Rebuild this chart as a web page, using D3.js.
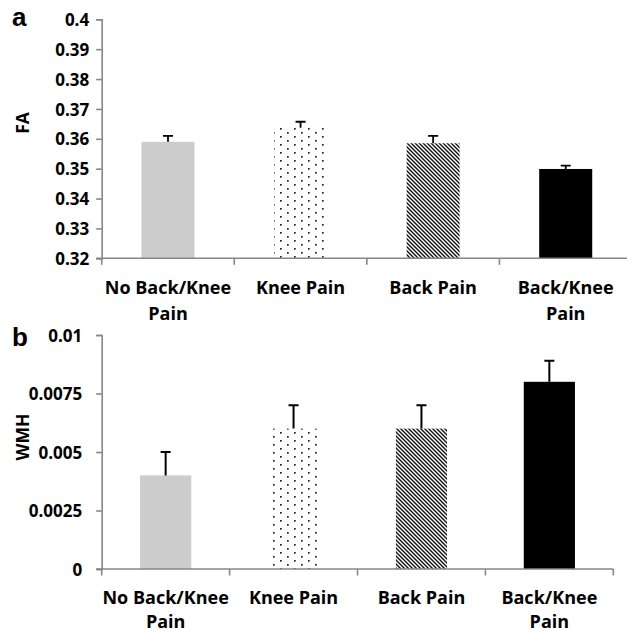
<!DOCTYPE html>
<html>
<head>
<meta charset="utf-8">
<script src="https://cdn.jsdelivr.net/npm/d3@7"></script>
<style>
  body { margin: 0; background: #fff; }
  text { font-family: "Open Sans", Lato, sans-serif; font-weight: 700; fill: #000; }
</style>
</head>
<body>
<script>
// data
var categories = ["No Back/Knee Pain", "Knee Pain", "Back Pain", "Back/Knee Pain"];
var categoryLines = [["No Back/Knee", "Pain"], ["Knee Pain"], ["Back Pain"], ["Back/Knee", "Pain"]];

var faValues = [0.359, 0.3637, 0.3585, 0.3499];
var faErrors = [0.002, 0.002, 0.0025, 0.0011];
var faTicks = [0.32, 0.33, 0.34, 0.35, 0.36, 0.37, 0.38, 0.39, 0.4];
var faTickLabels = ["0.32", "0.33", "0.34", "0.35", "0.36", "0.37", "0.38", "0.39", "0.4"];

var wmhValues = [0.004, 0.006, 0.006, 0.008];
var wmhErrors = [0.001, 0.001, 0.001, 0.0009];
var wmhTicks = [0, 0.0025, 0.005, 0.0075, 0.01];
var wmhTickLabels = ["0", "0.0025", "0.005", "0.0075", "0.01"];

var fills = ["#cccccc", "url(#dots)", "url(#hatch)", "#000000"];

var svg = d3.select("body").append("svg")
    .attr("width", 627)
    .attr("height", 631);

// fill patterns
var defs = svg.append("defs");
var dots = defs.append("pattern")
    .attr("id", "dots")
    .attr("patternUnits", "userSpaceOnUse")
    .attr("width", 14).attr("height", 8);
dots.append("rect").attr("width", 14).attr("height", 8).attr("fill", "#fff");
dots.append("rect").attr("x", 0).attr("y", 0).attr("width", 1.7).attr("height", 1.7).attr("fill", "#222");
dots.append("rect").attr("x", 7).attr("y", 4).attr("width", 1.7).attr("height", 1.7).attr("fill", "#222");

var hatch = defs.append("pattern")
    .attr("id", "hatch")
    .attr("patternUnits", "userSpaceOnUse")
    .attr("width", 4).attr("height", 4);
hatch.append("rect").attr("width", 4).attr("height", 4).attr("fill", "#fff");
hatch.append("path")
    .attr("d", "M-1,-1L5,5M3,-1L5,1M-1,3L1,5")
    .attr("stroke", "#111")
    .attr("stroke-width", 1.4);

function drawPanel(p) {
    var x = d3.scaleBand()
        .domain(categories)
        .range([p.left, p.right])
        .paddingInner(0.6)
        .paddingOuter(0.3);
    var y = d3.scaleLinear()
        .domain(p.domain)
        .range([p.bottom, p.top]);
    var step = x.step();

    var g = svg.append("g");

    // y axis
    var yAxis = d3.axisLeft(y)
        .tickValues(p.ticks)
        .tickFormat(function(d, i) { return p.tickLabels[i]; })
        .tickSize(5.5)
        .tickPadding(p.tickPad);
    var ya = g.append("g")
        .attr("transform", "translate(" + p.left + ",0)")
        .call(yAxis);
    ya.attr("font-family", null).attr("font-size", null);
    ya.select(".domain").attr("stroke", "#878787").attr("stroke-width", 1.6);
    ya.selectAll(".tick line").attr("stroke", "#878787").attr("stroke-width", 1.6);
    ya.selectAll(".tick text")
        .style("font-size", "17px")
        .style("font-weight", "700")
        .attr("fill", "#000")
        .attr("dy", "0.36em");

    // bars
    g.selectAll("rect.bar")
        .data(p.values)
        .enter().append("rect")
        .attr("class", "bar")
        .attr("x", function(d, i) { return x(categories[i]); })
        .attr("width", x.bandwidth())
        .attr("y", function(d) { return y(d); })
        .attr("height", function(d) { return y(p.domain[0]) - y(d); })
        .attr("fill", function(d, i) { return fills[i]; });

    // error bars
    var err = g.append("g")
        .attr("stroke", "#000")
        .attr("stroke-width", p.errWidth)
        .attr("fill", "none");
    err.selectAll("path")
        .data(p.values)
        .enter().append("path")
        .attr("d", function(d, i) {
            var cx = x(categories[i]) + x.bandwidth() / 2;
            var y0 = y(d), y1 = y(d + p.errors[i]);
            return "M" + cx + "," + y0 + "V" + y1 + "M" + (cx - 5) + "," + y1 + "H" + (cx + 5);
        });

    // x axis line and boundary ticks
    var axisY = y(p.domain[0]);
    g.append("line")
        .attr("x1", p.left - 5.5).attr("x2", p.right)
        .attr("y1", axisY).attr("y2", axisY)
        .attr("stroke", "#878787").attr("stroke-width", 1.6);
    var bounds = d3.range(categories.length + 1).map(function(i) {
        return i < categories.length ? x(categories[i]) - step * 0.3 : x(categories[i - 1]) + x.bandwidth() + step * 0.3;
    });
    g.selectAll("line.xtick")
        .data(bounds)
        .enter().append("line")
        .attr("class", "xtick")
        .attr("x1", function(d) { return d; }).attr("x2", function(d) { return d; })
        .attr("y1", axisY).attr("y2", axisY + 6.5)
        .attr("stroke", "#878787").attr("stroke-width", 1.6);

    // category labels
    var lab = g.selectAll("text.cat")
        .data(categoryLines)
        .enter().append("text")
        .attr("class", "cat")
        .attr("text-anchor", "middle")
        .style("font-size", "18px")
        .attr("x", function(d, i) { return x(categories[i]) + x.bandwidth() / 2; })
        .attr("y", axisY + p.labelOffset);
    lab.selectAll("tspan")
        .data(function(d) { return d; })
        .enter().append("tspan")
        .attr("x", function() { return d3.select(this.parentNode).attr("x"); })
        .attr("dy", function(d, i) { return i === 0 ? 0 : p.lineGap; })
        .text(function(d) { return d; });

    // axis title
    g.append("text")
        .attr("transform", "translate(" + p.titleX + "," + p.titleY + ") rotate(-90)")
        .attr("text-anchor", "middle")
        .style("font-size", "17.5px")
        .text(p.title);

    // panel letter
    g.append("text")
        .attr("x", 12)
        .attr("y", p.letterY)
        .style("font-family", "'Liberation Sans', Arial, sans-serif")
        .style("font-size", "26px")
        .text(p.letter);
}

drawPanel({
    left: 101.7, right: 632, top: 19.3, bottom: 258.3,
    domain: [0.32, 0.4], ticks: faTicks, tickLabels: faTickLabels, tickPad: 7,
    values: faValues, errors: faErrors, errWidth: 1.8,
    labelOffset: 36, lineGap: 26,
    title: "FA", titleX: 28.5, titleY: 123, letter: "a", letterY: 26
});

drawPanel({
    left: 101.7, right: 613.3, top: 335, bottom: 569,
    domain: [0, 0.01], ticks: wmhTicks, tickLabels: wmhTickLabels, tickPad: 14,
    values: wmhValues, errors: wmhErrors, errWidth: 2,
    labelOffset: 35, lineGap: 23.5,
    title: "WMH", titleX: 28.5, titleY: 437, letter: "b", letterY: 346
});
</script>
</body>
</html>
